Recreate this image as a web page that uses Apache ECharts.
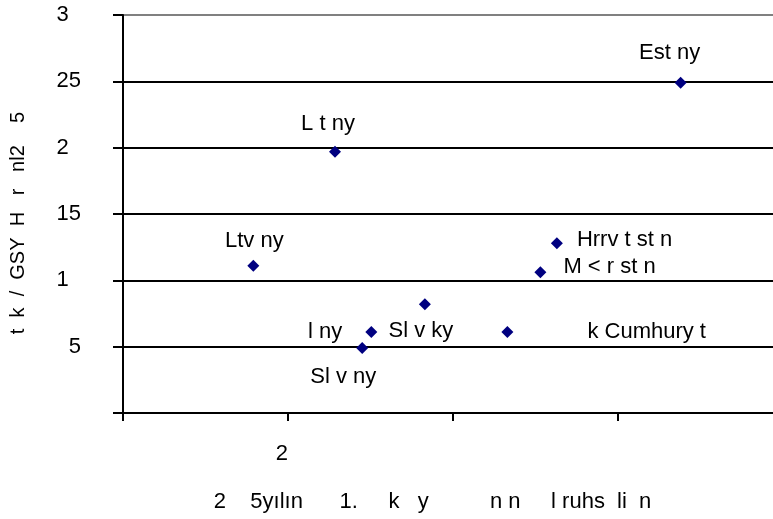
<!DOCTYPE html>
<html>
<head>
<meta charset="utf-8">
<script src="https://cdn.jsdelivr.net/npm/echarts@6/dist/echarts.min.js"></script>
<style>
html,body{margin:0;padding:0;background:#ffffff;}
#chart{width:773px;height:519px;}
</style>
</head>
<body>
<div id="chart"></div>
<script>
// ---- data ----
const pointNames = ['Est ny', 'L t ny', 'Ltv ny', 'Hrrv t st n', 'M < r st n', 'Sl v ky', 'l ny', 'Sl v ny', 'k Cumhury t'];
const xValues = [67.6, 25.7, 15.8, 52.6, 50.6, 36.6, 30.1, 29.0, 46.6];
const yValues = [24.9, 19.7, 11.1, 12.8, 10.6, 8.2, 6.1, 4.9, 6.1];
const yTickValues = [0, 5, 10, 15, 20, 25, 30];
const yTickLabels = ['', '5', '1  ', '15', '2  ', '25', '3  '];
const xTickValues = [0, 20, 40, 60];
const xTickLabels = ['', '2  ', '', ''];
const xAxisTitle = '2    5yılın      1.     k   y          n n     l ruhs  li  n';
const yAxisTitle = 't  k  /  GSY  H   r   nl2    5';

// ---- label placement (style, kept apart from data) ----
const SYM = 12;
const labelPlacement = [
  {align: 'center', offset: [-11, -30]},
  {align: 'center', offset: [-7, -28]},
  {align: 'center', offset: [1, -25]},
  {align: 'left', offset: [20, -3]},
  {align: 'left', offset: [23, -5]},
  {align: 'center', offset: [-4, 27]},
  {align: 'right', offset: [-29, 0]},
  {align: 'center', offset: [-19, 29]},
  {align: 'left', offset: [80, 0]}
];

const FONT = '"Liberation Sans", Arial, sans-serif';

const seriesData = pointNames.map((n, i) => ({
  name: n,
  value: [xValues[i], yValues[i]],
  label: {
    show: true,
    formatter: n,
    position: [SYM / 2 + labelPlacement[i].offset[0], SYM / 2 + labelPlacement[i].offset[1]],
    align: labelPlacement[i].align,
    verticalAlign: 'middle'
  }
}));

const chart = echarts.init(document.getElementById('chart'), null, {renderer: 'canvas'});
chart.setOption({
  animation: false,
  backgroundColor: '#ffffff',
  grid: {left: 120, right: 0, top: 15, bottom: 106, containLabel: false},
  xAxis: {
    type: 'value',
    min: 0,
    max: 78.8,
    interval: 20,
    name: xAxisTitle,
    nameLocation: 'middle',
    nameGap: 78,
    nameTextStyle: {color: '#000', fontSize: 22, fontFamily: FONT, padding: [0, 31, 0, 0]},
    axisLine: {show: true, onZero: false, lineStyle: {color: '#000', width: 2}},
    axisTick: {show: true, inside: false, length: 8, lineStyle: {color: '#000', width: 2}},
    axisLabel: {
      margin: 30,
      color: '#000',
      fontSize: 22,
      fontFamily: FONT,
      showMaxLabel: false,
      formatter: v => { const k = xTickValues.indexOf(v); return k >= 0 ? xTickLabels[k] : ''; }
    },
    splitLine: {show: false}
  },
  yAxis: {
    type: 'value',
    min: 0,
    max: 30,
    interval: 5,
    name: yAxisTitle,
    nameLocation: 'middle',
    nameRotate: 90,
    nameGap: 95,
    nameTextStyle: {color: '#000', fontSize: 20, fontFamily: FONT, padding: [0, 18, 0, 0]},
    axisLine: {show: true, lineStyle: {color: '#000', width: 2}},
    axisTick: {show: true, inside: false, length: 10, lineStyle: {color: '#000', width: 2}},
    axisLabel: {
      margin: 42,
      color: '#000',
      fontSize: 22,
      fontFamily: FONT,
      formatter: v => { const k = yTickValues.indexOf(v); return k >= 0 ? yTickLabels[k] : ''; }
    },
    splitLine: {
      show: true,
      lineStyle: {color: ['#000', '#000', '#000', '#000', '#000', '#000', '#808080'], width: 2}
    }
  },
  series: [{
    type: 'scatter',
    symbol: 'diamond',
    symbolSize: SYM,
    itemStyle: {color: '#000080', opacity: 1},
    label: {color: '#000', fontSize: 22, fontFamily: FONT},
    labelLayout: {hideOverlap: false},
    emphasis: {disabled: true},
    data: seriesData
  }]
});
</script>
</body>
</html>
